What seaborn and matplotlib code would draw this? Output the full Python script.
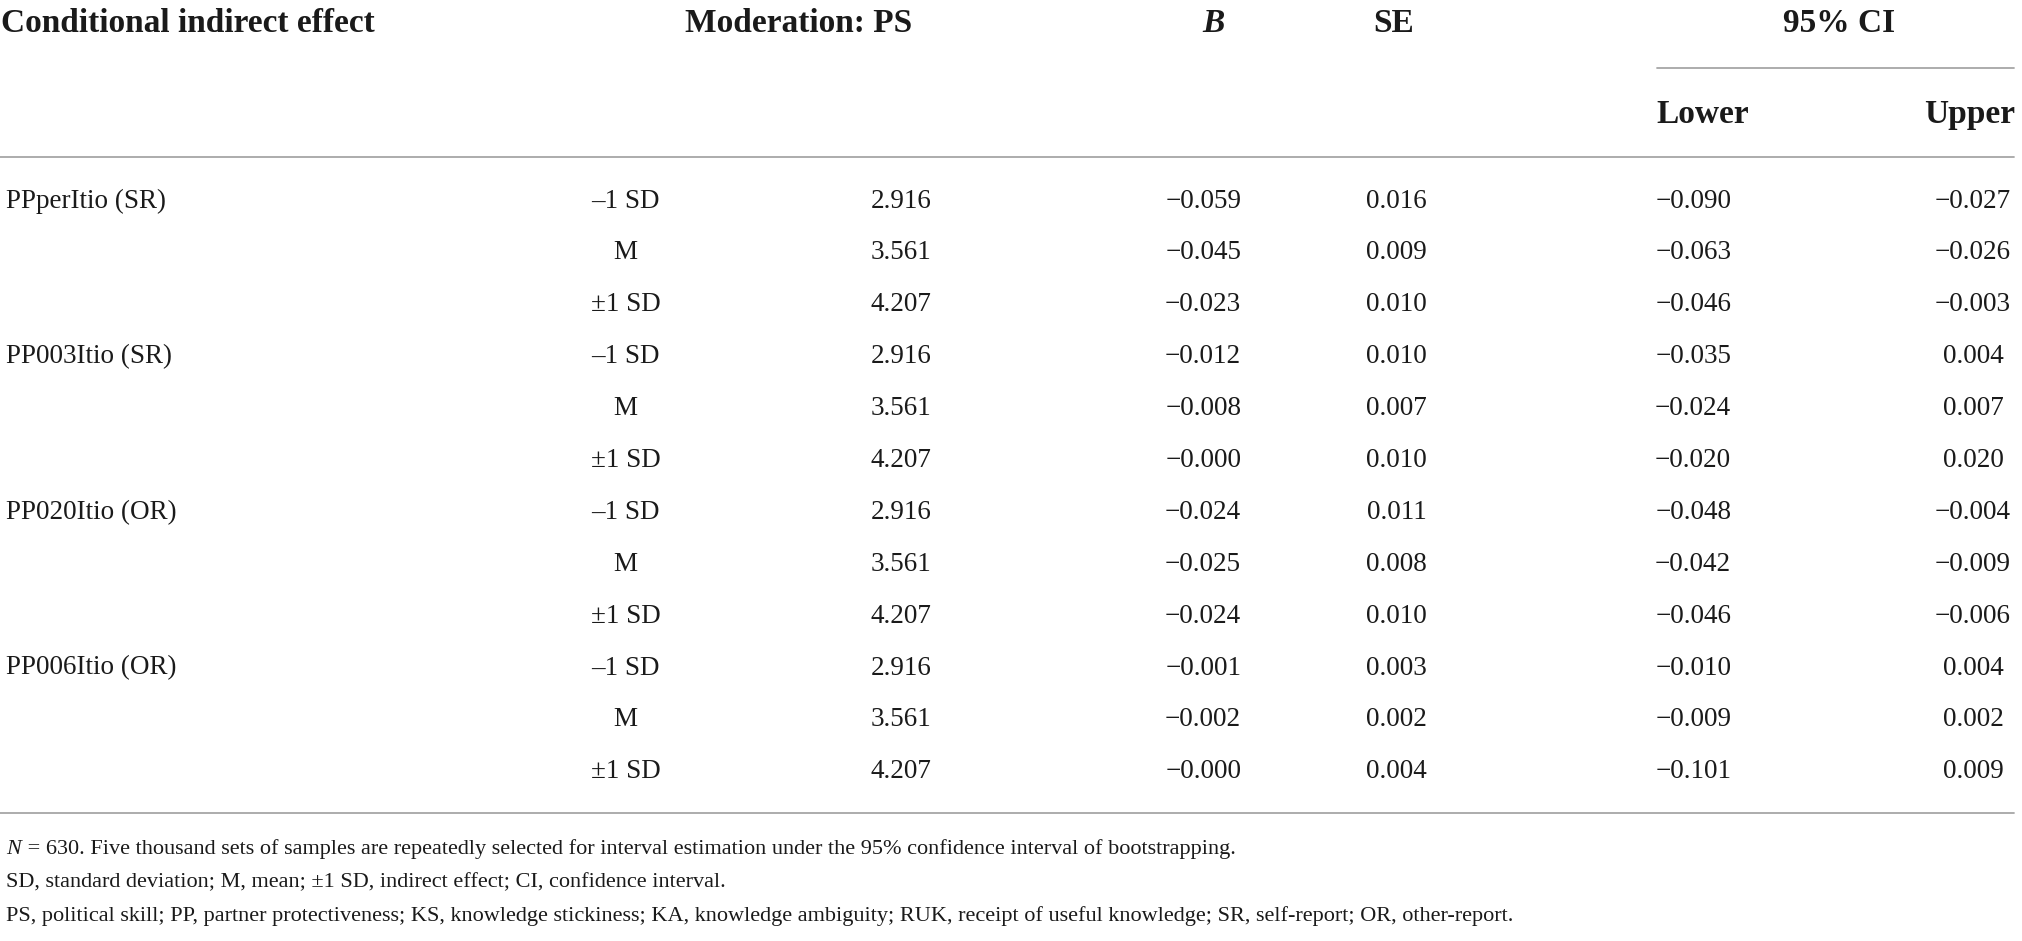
import matplotlib
matplotlib.use("Agg")
import matplotlib.pyplot as plt
import seaborn as sns

sns.set_theme(style="white")
plt.rcParams['font.family'] = ['Liberation Serif', 'DejaVu Serif']

# -----------------------------------------------
# table data
# -----------------------------------------------
effects = ["PPperItio (SR)", "PP003Itio (SR)", "PP020Itio (OR)", "PP006Itio (OR)"]
levels = ["\u20131 SD", "M", "\u00b11 SD"]
ps_values = [2.916, 3.561, 4.207]

b_values = [-0.059, -0.045, -0.023, -0.012, -0.008, -0.000,
            -0.024, -0.025, -0.024, -0.001, -0.002, -0.000]
se_values = [0.016, 0.009, 0.010, 0.010, 0.007, 0.010,
             0.011, 0.008, 0.010, 0.003, 0.002, 0.004]
ci_lower = [-0.090, -0.063, -0.046, -0.035, -0.024, -0.020,
            -0.048, -0.042, -0.046, -0.010, -0.009, -0.101]
ci_upper = [-0.027, -0.026, -0.003, 0.004, 0.007, 0.020,
            -0.004, -0.009, -0.006, 0.004, 0.002, 0.009]

notes = [
    "N = 630. Five thousand sets of samples are repeatedly selected for interval estimation under the 95% confidence interval of bootstrapping.",
    "SD, standard deviation; M, mean; \u00b11 SD, indirect effect; CI, confidence interval.",
    "PS, political skill; PP, partner protectiveness; KS, knowledge stickiness; KA, knowledge ambiguity; RUK, receipt of useful knowledge; SR, self-report; OR, other-report.",
]


def fmt(v):
    return f"{v:.3f}".replace("-", "\u2212")


# -----------------------------------------------
# layout (page units, width 1568)
# -----------------------------------------------
W, H = 1568, 730
TXT = "#1a1a1a"
LINE = "#a6a6a6"
row_top, row_step = 156, 40.25
col_label, col_level, col_ps, col_b, col_se, col_lo, col_up = 5, 485, 699, 933, 1083, 1313, 1530
hfs, dfs, nfs = 24, 19.5, 16

fig = plt.figure(figsize=(20.22, 9.41), dpi=100)
ax = fig.add_axes([0, 0, 1, 1])
ax.set_xlim(0, W)
ax.set_ylim(H, 0)
ax.axis("off")

# header
hkw = dict(fontsize=hfs, fontweight="bold", color=TXT, va="center")
ax.text(1, 18, "Conditional indirect effect", ha="left", **hkw)
ax.text(619, 18, "Moderation: PS", ha="center", **hkw)
ax.text(941, 18, "B", ha="center", style="italic", **hkw)
ax.text(1081, 18, "SE", ha="center", **hkw)
ax.text(1426, 18, "95% CI", ha="center", **hkw)
ax.text(1320, 89, "Lower", ha="center", **hkw)
ax.text(1563, 89, "Upper", ha="right", **hkw)

sns.lineplot(x=[1285, 1562], y=[53, 53], ax=ax, color=LINE, lw=1.3)
sns.lineplot(x=[0, 1562], y=[122, 122], ax=ax, color=LINE, lw=1.3)
sns.lineplot(x=[0, 1562], y=[631, 631], ax=ax, color=LINE, lw=1.3)

# body
dkw = dict(fontsize=dfs, color=TXT, va="center")
for i in range(len(b_values)):
    y = row_top + i * row_step
    g, k = divmod(i, len(levels))
    if k == 0:
        ax.text(col_label, y, effects[g], ha="left", **dkw)
    ax.text(col_level, y, levels[k], ha="center", **dkw)
    ax.text(col_ps, y, f"{ps_values[k]:.3f}", ha="center", **dkw)
    ax.text(col_b, y, fmt(b_values[i]), ha="center", **dkw)
    ax.text(col_se, y, fmt(se_values[i]), ha="center", **dkw)
    ax.text(col_lo, y, fmt(ci_lower[i]), ha="center", **dkw)
    ax.text(col_up, y, fmt(ci_upper[i]), ha="center", **dkw)

# footnotes
for j, line in enumerate(notes):
    y = 659 + j * 26
    if j == 0:
        ax.text(col_label, y, "N", ha="left", va="center", fontsize=nfs, color=TXT, style="italic")
        ax.text(col_label + 12, y, line[1:], ha="left", va="center", fontsize=nfs, color=TXT)
    else:
        ax.text(col_label, y, line, ha="left", va="center", fontsize=nfs, color=TXT)

fig.savefig("out.png", dpi=100, facecolor="white")
